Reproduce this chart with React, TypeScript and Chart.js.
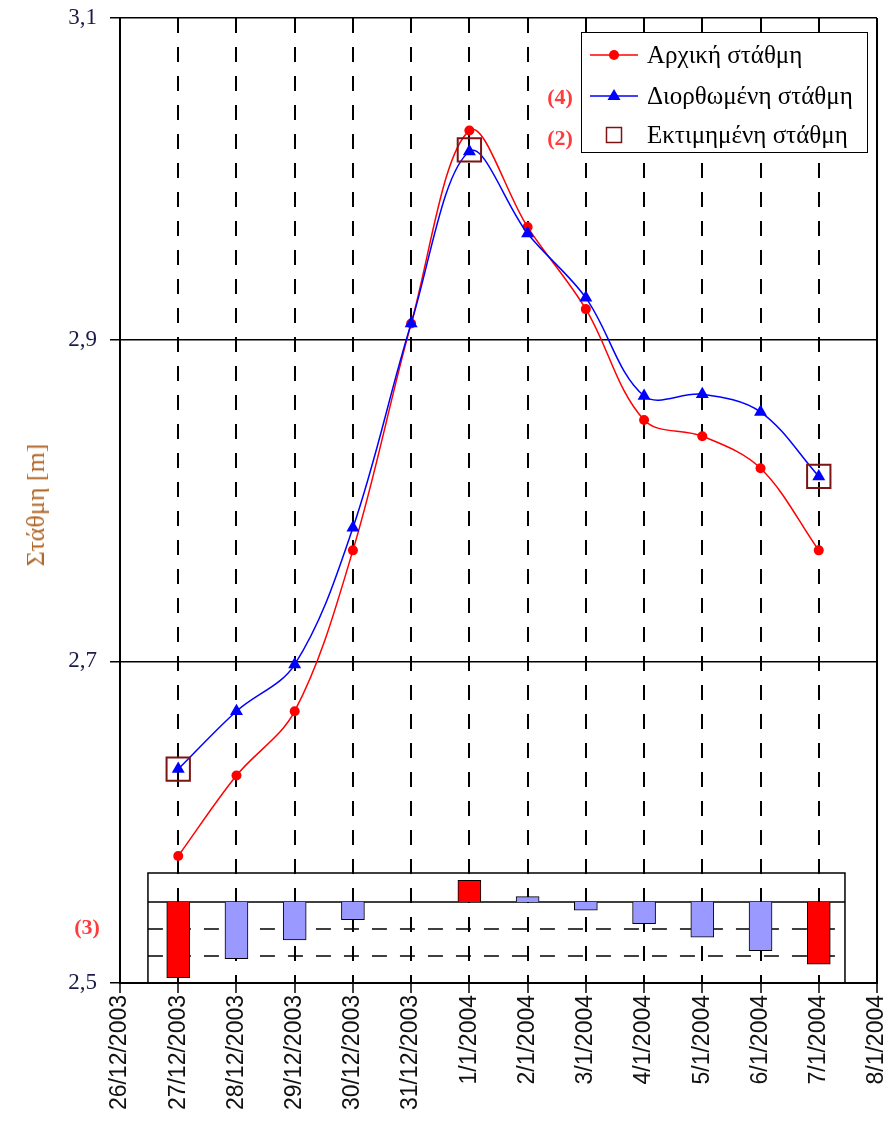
import React, { useEffect, useRef } from 'react';
import { Chart, registerables } from 'chart.js';

Chart.register(...registerables);

// Day axis: index 0 = 26/12/2003 ... index 13 = 8/1/2004
const dateLabels = [
  '26/12/2003', '27/12/2003', '28/12/2003', '29/12/2003', '30/12/2003', '31/12/2003',
  '1/1/2004', '2/1/2004', '3/1/2004', '4/1/2004', '5/1/2004', '6/1/2004', '7/1/2004', '8/1/2004',
];

// Measurement days (indices into dateLabels)
const measureDays = [1, 2, 3, 4, 5, 6, 7, 8, 9, 10, 11, 12];

// Water level [m]
const initialLevel = [2.579, 2.629, 2.669, 2.769, 2.910, 3.030, 2.970, 2.919, 2.850, 2.840, 2.820, 2.769];
const correctedLevel = [2.633, 2.669, 2.698, 2.783, 2.910, 3.017, 2.966, 2.926, 2.865, 2.866, 2.855, 2.815];

// Estimated level at the control days
const estimatedDays = [1, 6, 12];
const estimatedLevel = [2.633, 3.018, 2.815];

// Difference initial - corrected [m], shown in the lower bar panel
const levelDifference = [-0.056, -0.042, -0.028, -0.013, 0, 0.016, 0.004, -0.006, -0.016, -0.026, -0.036, -0.046];

const yTickValues = [2.5, 2.7, 2.9, 3.1];
const yTickLabels = ['2,5', '2,7', '2,9', '3,1'];
const diffGridValues = [-0.02, -0.04];

// Lower panel frame (x in day units, y in difference units)
const PANEL_LEFT = 0.48;
const PANEL_RIGHT = 12.45;
const PANEL_TOP = 0.0215;
const PANEL_BOTTOM = -0.06;

const SERIF = '"Liberation Serif", "Times New Roman", serif';
const SANS = '"Liberation Sans", Arial, sans-serif';

// keep tick labels from pushing the plot area inwards
const noOverflowPadding = (s: any) => {
  s.paddingLeft = 0;
  s.paddingRight = 0;
  s.paddingTop = 0;
  s.paddingBottom = 0;
};

const framePlugin = {
  id: 'frameAndPanel',
  beforeDatasetsDraw(chart: any) {
    const { ctx, chartArea, scales } = chart;
    const x = scales.x;
    const y2 = scales.y2;
    ctx.save();
    ctx.strokeStyle = '#000';
    // right border of the plot
    ctx.lineWidth = 2;
    ctx.beginPath();
    ctx.moveTo(chartArea.right, chartArea.top);
    ctx.lineTo(chartArea.right, chartArea.bottom);
    ctx.stroke();

    // lower panel frame
    const l = x.getPixelForValue(PANEL_LEFT);
    const r = x.getPixelForValue(PANEL_RIGHT);
    const t = y2.getPixelForValue(PANEL_TOP);
    const b = y2.getPixelForValue(PANEL_BOTTOM);
    const z = y2.getPixelForValue(0);
    ctx.lineWidth = 1.5;
    ctx.beginPath();
    ctx.moveTo(l, b);
    ctx.lineTo(l, t);
    ctx.lineTo(r, t);
    ctx.lineTo(r, b);
    ctx.moveTo(l, z);
    ctx.lineTo(r, z);
    ctx.stroke();

    ctx.setLineDash([15, 13]);
    ctx.beginPath();
    diffGridValues.forEach((v) => {
      const py = y2.getPixelForValue(v);
      ctx.moveTo(l, py);
      ctx.lineTo(r, py);
    });
    ctx.stroke();
    ctx.restore();
  },
};

function LegendRow({ top, marker, text }: { top: number; marker: React.ReactNode; text: string }) {
  return (
    <div style={{ position: 'absolute', left: 0, top: top - 16, height: 32, display: 'flex', alignItems: 'center' }}>
      <svg width={62} height={32} style={{ display: 'block' }}>
        {marker}
      </svg>
      <span style={{ marginLeft: 3, fontFamily: SERIF, fontSize: 25, color: '#000', whiteSpace: 'nowrap' }}>{text}</span>
    </div>
  );
}

export default function App() {
  const canvasRef = useRef<HTMLCanvasElement | null>(null);

  useEffect(() => {
    const canvas = canvasRef.current;
    if (!canvas) return;

    const point = (days: number[], vals: number[]) => days.map((d, i) => ({ x: d, y: vals[i] }));
    const barColors = measureDays.map((d) => (estimatedDays.includes(d) ? '#ff0000' : '#9999ff'));

    const chart = new Chart(canvas, {
      type: 'line',
      data: {
        datasets: [
          {
            type: 'line',
            label: 'Εκτιμημένη στάθμη',
            data: point(estimatedDays, estimatedLevel),
            showLine: false,
            pointStyle: 'rect',
            pointRadius: 16.5,
            pointBorderColor: '#7b1414',
            pointBorderWidth: 2,
            pointBackgroundColor: 'rgba(0,0,0,0)',
            clip: false,
            yAxisID: 'y',
            order: 0,
          },
          {
            type: 'line',
            label: 'Διορθωμένη στάθμη',
            data: point(measureDays, correctedLevel),
            borderColor: '#0000ff',
            borderWidth: 1.5,
            tension: 0.35,
            pointStyle: 'triangle',
            pointRadius: 7.5,
            pointBackgroundColor: '#0000ff',
            pointBorderWidth: 0,
            clip: false,
            yAxisID: 'y',
            order: 1,
          },
          {
            type: 'line',
            label: 'Αρχική στάθμη',
            data: point(measureDays, initialLevel),
            borderColor: '#ff0000',
            borderWidth: 1.5,
            tension: 0.35,
            pointStyle: 'circle',
            pointRadius: 5,
            pointBackgroundColor: '#ff0000',
            pointBorderWidth: 0,
            clip: false,
            yAxisID: 'y',
            order: 2,
          },
          {
            type: 'bar',
            label: 'Διαφορά',
            data: point(measureDays, levelDifference) as any,
            backgroundColor: barColors,
            borderColor: '#000',
            borderWidth: 1,
            barThickness: 23,
            yAxisID: 'y2',
            order: 3,
          } as any,
        ],
      },
      options: {
        responsive: false,
        animation: false,
        layout: { padding: { top: 18, right: 13, left: 0, bottom: 0 } },
        plugins: { legend: { display: false }, tooltip: { enabled: false } },
        scales: {
          x: {
            type: 'linear',
            min: 0,
            max: dateLabels.length - 1,
            offset: false,
            afterBuildTicks: (s: any) => {
              s.ticks = dateLabels.map((_, i) => ({ value: i }));
            },
            afterFit: (s: any) => {
              s.height = 140;
              noOverflowPadding(s);
            },
            ticks: {
              autoSkip: false,
              minRotation: 90,
              maxRotation: 90,
              padding: 2,
              color: '#111',
              font: { family: SANS, size: 23 },
              callback: (_v: any, i: number) => dateLabels[i],
            },
            grid: {
              offset: false,
              lineWidth: 2,
              color: (c: any) =>
                c.tick && (c.tick.value === 0 || c.tick.value === dateLabels.length - 1) ? 'rgba(0,0,0,0)' : '#000',
              tickColor: '#000',
              tickWidth: 1.5,
              tickLength: 10,
            },
            border: { display: true, color: '#000', width: 2, dash: [15, 14] },
          },
          y: {
            type: 'linear',
            min: 2.5,
            max: 3.1,
            afterBuildTicks: (s: any) => {
              s.ticks = yTickValues.map((v) => ({ value: v }));
            },
            afterFit: (s: any) => {
              s.width = 120;
              noOverflowPadding(s);
            },
            ticks: {
              padding: 13,
              color: '#1c1c4a',
              font: { family: SERIF, size: 23 },
              callback: (_v: any, i: number) => yTickLabels[i],
            },
            grid: { color: '#000', lineWidth: 1.5, tickLength: 10 },
            border: { display: true, color: '#000', width: 2 },
          },
          y2: {
            type: 'linear',
            display: false,
            min: PANEL_BOTTOM,
            max: 0.655,
          },
        },
      },
      plugins: [framePlugin],
    } as any);

    // large markers (the estimate squares) would otherwise reserve extra room around the plot area
    chart.data.datasets.forEach((_d: any, i: number) => {
      (chart.getDatasetMeta(i).controller as any).getMaxOverflow = () => 0;
    });
    chart.update();

    return () => chart.destroy();
  }, []);

  return (
    <div style={{ position: 'absolute', left: 0, top: 0, width: 890, height: 1123, background: '#fff' }}>
      <canvas ref={canvasRef} width={890} height={1123} style={{ display: 'block', width: 890, height: 1123 }} />

      {/* y-axis title */}
      <div
        style={{
          position: 'absolute',
          left: 36,
          top: 505,
          transform: 'translate(-50%, -50%) rotate(-90deg)',
          fontFamily: SERIF,
          fontSize: 26,
          color: '#b0682a',
          whiteSpace: 'nowrap',
        }}
      >
        Στάθμη [m]
      </div>

      {/* reference marks */}
      <div style={{ position: 'absolute', left: 87, top: 927, transform: 'translate(-50%, -50%)', fontFamily: SERIF, fontWeight: 'bold', fontSize: 22, color: '#ff3b3b' }}>
        (3)
      </div>
      <div style={{ position: 'absolute', left: 560, top: 97, transform: 'translate(-50%, -50%)', fontFamily: SERIF, fontWeight: 'bold', fontSize: 22, color: '#ff3b3b' }}>
        (4)
      </div>
      <div style={{ position: 'absolute', left: 560, top: 138, transform: 'translate(-50%, -50%)', fontFamily: SERIF, fontWeight: 'bold', fontSize: 22, color: '#ff3b3b' }}>
        (2)
      </div>

      {/* legend */}
      <div
        style={{
          position: 'absolute',
          left: 581,
          top: 32,
          width: 285,
          height: 119,
          border: '1.5px solid #000',
          background: '#fff',
        }}
      >
        <LegendRow
          top={22}
          text="Αρχική στάθμη"
          marker={
            <g>
              <line x1={8} y1={16} x2={56} y2={16} stroke="#ff0000" strokeWidth={1.5} />
              <circle cx={32} cy={16} r={5} fill="#ff0000" />
            </g>
          }
        />
        <LegendRow
          top={63}
          text="Διορθωμένη στάθμη"
          marker={
            <g>
              <line x1={8} y1={16} x2={56} y2={16} stroke="#0000ff" strokeWidth={1.5} />
              <polygon points="32,9 38.5,20 25.5,20" fill="#0000ff" />
            </g>
          }
        />
        <LegendRow
          top={102}
          text="Εκτιμημένη στάθμη"
          marker={<rect x={24.5} y={8.5} width={15} height={15} fill="none" stroke="#7b1414" strokeWidth={1.5} />}
        />
      </div>
    </div>
  );
}
